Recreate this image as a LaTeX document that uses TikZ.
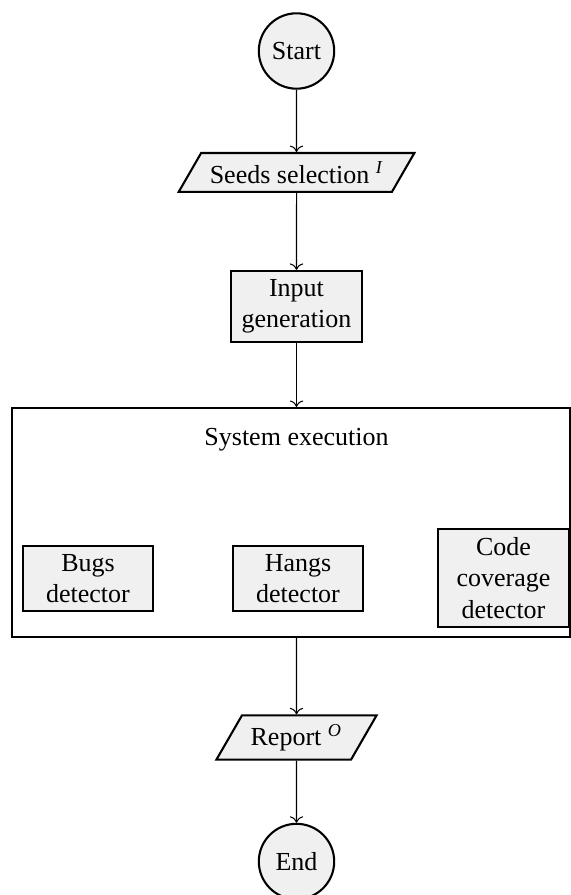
\documentclass[tikz,border=0pt]{standalone}
\usepackage{fontspec}
\setmainfont{Liberation Serif}
\usetikzlibrary{shapes.geometric,arrows.meta}
\begin{document}
\begin{tikzpicture}[x=0.38462pt,y=-0.38462pt,
  every node/.style={font=\fontsize{10}{12}\selectfont},
  term/.style={circle,draw,line width=0.8pt,fill=gray!12,minimum size=29pt,inner sep=1pt},
  io/.style={trapezium,trapezium left angle=60,trapezium right angle=120,draw,line width=0.8pt,fill=gray!12,inner sep=3.33pt},
  proc/.style={rectangle,draw,line width=0.8pt,fill=gray!12,text width=43.5pt,align=center,inner sep=3.33pt},
  frame/.style={rectangle,draw,line width=0.8pt,inner sep=0pt},
  flow/.style={->,line width=0.4pt}]
\useasboundingbox (0,0) rectangle (571,895);
\node[term] (start) at (296.5,51) {Start};
\node[io] (seeds) at (296.5,172.5) {Seeds selection \textsuperscript{\itshape I}};
\node[proc] (input) at (296.5,306.5) {Input generation};
\node[frame,minimum width=214.6pt,minimum height=88.1pt] (system) at (291,522.5) {};
\node (syslabel) at (296.5,440) {System execution};
\node[proc] (bugs) at (88,578.5) {Bugs detector};
\node[proc] (hangs) at (298,578.5) {Hangs detector};
\node[proc] (code) at (503.5,578) {Code coverage detector};
\node[io] (report) at (296.5,737.5) {Report \textsuperscript{\itshape O}};
\node[term] (end) at (296.5,861.5) {End};
\draw[flow] (start) -- (seeds);
\draw[flow] (seeds) -- (input);
\draw[flow] (input.south) -- (input.south |- system.north);
\draw[flow] (input.south |- system.south) -- (report);
\draw[flow] (report) -- (end);
\end{tikzpicture}
\end{document}
